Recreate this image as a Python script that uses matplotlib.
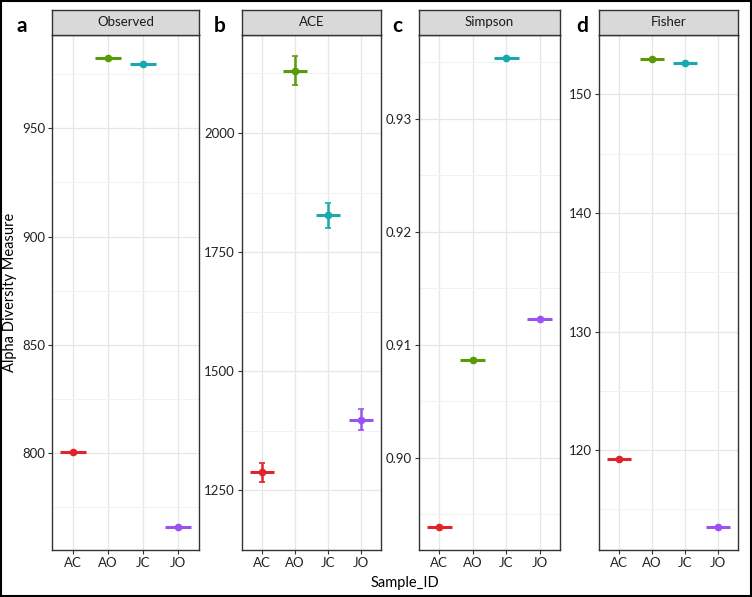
import matplotlib.pyplot as plt
import matplotlib.patches as patches
import numpy as np

plt.rcParams['font.family'] = ['Lato', 'DejaVu Sans']

# Sample groups and colours
samples = ['AC', 'AO', 'JC', 'JO']
colors = ['#E3232A', '#5A9A08', '#17A9AE', '#9A52F0']

# Alpha diversity values (mean) and spread
observed = [800.3, 982.4, 979.9, 765.8]
observed_err = [0.0, 0.0, 0.0, 0.0]
ace = [1288, 2131, 1827, 1398]
ace_err = [20, 30, 26, 22]
simpson = [0.89392, 0.90867, 0.93535, 0.91228]
simpson_err = [0.0, 0.0, 0.0, 0.0]
fisher = [119.24, 152.98, 152.65, 113.55]
fisher_err = [0.0, 0.0, 0.0, 0.0]

panels = [
    ('a', 'Observed', observed, observed_err, [800, 850, 900, 950], '{:.0f}'),
    ('b', 'ACE', ace, ace_err, [1250, 1500, 1750, 2000], '{:.0f}'),
    ('c', 'Simpson', simpson, simpson_err, [0.90, 0.91, 0.92, 0.93], '{:.2f}'),
    ('d', 'Fisher', fisher, fisher_err, [120, 130, 140, 150], '{:.0f}'),
]

W, H = 752, 597
# pixel boxes of the panels (left, right); top/bottom shared
lefts = [52, 242, 419, 599]
rights = [199, 381, 560, 738]
letter_x = [22, 220, 397, 582]
top, bottom, strip_top = 35, 550, 10

fig = plt.figure(figsize=(W / 100, H / 100), dpi=100)

for i, (letter, title, vals, errs, ticks, fmt) in enumerate(panels):
    l, r = lefts[i], rights[i]
    ax = fig.add_axes([l / W, 1 - bottom / H, (r - l) / W, (bottom - top) / H])
    x = np.arange(len(samples))
    for xi, v, e, c in zip(x, vals, errs, colors):
        # horizontal bar, no caps
        ax.errorbar(xi, v, xerr=0.37, fmt='none', ecolor=c,
                    elinewidth=2.2, capsize=0, zorder=3)
        # vertical error bar with small caps
        if e > 0:
            ax.errorbar(xi, v, yerr=e, fmt='none', ecolor=c,
                        elinewidth=1.8, capsize=2, capthick=1.2, zorder=3)
        ax.plot(xi, v, 'o', color=c, ms=4.5, zorder=4)
    lo = min(v - e for v, e in zip(vals, errs))
    hi = max(v + e for v, e in zip(vals, errs))
    pad = (hi - lo) * 0.05
    ax.set_ylim(lo - pad, hi + pad)
    ax.set_xlim(-0.6, 3.6)
    ax.set_xticks(x)
    ax.set_xticklabels(samples)
    ax.set_yticks(ticks)
    ax.set_yticklabels([fmt.format(t) for t in ticks])
    step = ticks[1] - ticks[0]
    minor = np.arange(ticks[0] - step / 2, ticks[-1] + step, step)
    ax.set_yticks(minor, minor=True)
    ax.grid(True, which='major', color='#E6E6E6', lw=0.9, zorder=0)
    ax.grid(True, which='minor', axis='y', color='#F2F2F2', lw=0.7, zorder=0)
    ax.tick_params(which='minor', length=0)
    ax.tick_params(which='major', length=3, width=0.8, color='#333333',
                   labelsize=9.5, labelcolor='#222222', pad=2)
    for s in ax.spines.values():
        s.set_color('#333333')
        s.set_linewidth(1.0)
    ax.set_axisbelow(True)

    # facet strip
    sax = fig.add_axes([l / W, 1 - top / H, (r - l) / W, (top - strip_top) / H])
    sax.set_facecolor('#D9D9D9')
    sax.set_xticks([])
    sax.set_yticks([])
    for s in sax.spines.values():
        s.set_color('#333333')
        s.set_linewidth(1.0)
    sax.text(0.5, 0.5, title, ha='center', va='center', fontsize=9.5,
             color='#1A1A1A', transform=sax.transAxes)

    fig.text(letter_x[i] / W, 1 - 26 / H, letter, fontsize=15,
             fontweight='bold', ha='center', va='center')

fig.text(10 / W, 1 - 292 / H, 'Alpha Diversity Measure', rotation=90,
         ha='center', va='center', fontsize=10.5)
fig.text(405 / W, 1 - 583 / H, 'Sample_ID', ha='center', va='center',
         fontsize=10.5)

# outer frame
fig.patches.append(patches.Rectangle((0.001, 0.001), 0.998, 0.998,
                                     transform=fig.transFigure, fill=False,
                                     edgecolor='black', lw=1.5))

fig.savefig('out.png', dpi=100)
